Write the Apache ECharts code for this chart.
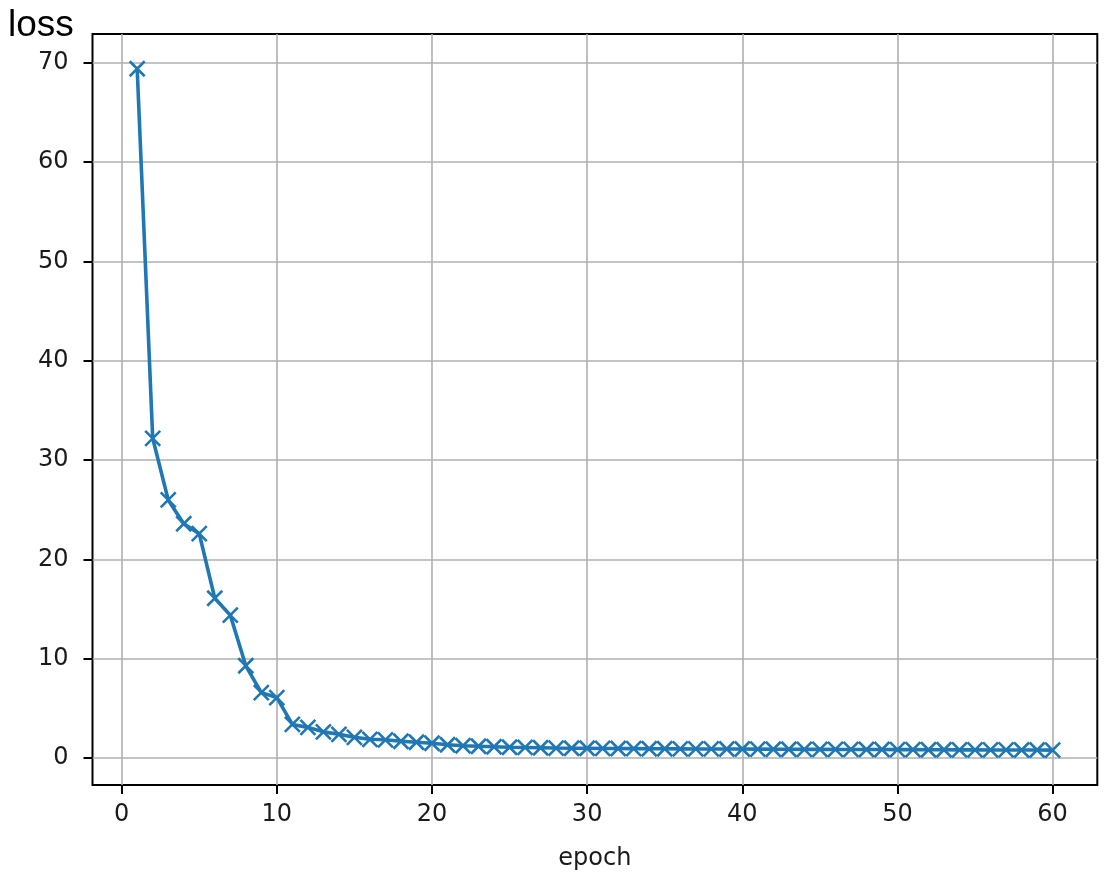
<!DOCTYPE html>
<html>
<head>
<meta charset="utf-8">
<script src="https://cdn.jsdelivr.net/npm/echarts@6/dist/echarts.min.js"></script>
<style>
html,body{margin:0;padding:0;background:#fff;}
#chart{width:1104px;height:878px;}
</style>
</head>
<body>
<div id="chart"></div>
<script>
const epochs = [];
for (let i = 1; i <= 60; i++) epochs.push(i);
const loss = [
  69.4, 32.2, 26.0, 23.6, 22.6, 16.1, 14.4, 9.3, 6.6, 6.1,
  3.4, 3.1, 2.65, 2.4, 2.1, 1.9, 1.85, 1.7, 1.6, 1.5,
  1.35, 1.25, 1.2, 1.15, 1.1, 1.08, 1.05, 1.02, 1.0, 1.0,
  0.98, 0.97, 0.96, 0.95, 0.95, 0.94, 0.93, 0.93, 0.92, 0.92,
  0.91, 0.9, 0.9, 0.89, 0.89, 0.88, 0.88, 0.87, 0.87, 0.86,
  0.86, 0.85, 0.85, 0.84, 0.84, 0.83, 0.83, 0.82, 0.82, 0.81
];
const xTicks = [0, 10, 20, 30, 40, 50, 60];
const yTicks = [0, 10, 20, 30, 40, 50, 60, 70];

const FONT = '"DejaVu Sans", sans-serif';
const TITLE_FONT = '"Liberation Sans", Arial, sans-serif';
const chart = echarts.init(document.getElementById('chart'), null, {renderer: 'canvas'});
const data = epochs.map((e, i) => [e, loss[i]]);

chart.setOption({
  animation: false,
  backgroundColor: '#fff',
  title: {
    text: 'loss',
    left: 3,
    top: 2,
    textStyle: {fontFamily: TITLE_FONT, fontSize: 37, fontWeight: 'normal', color: '#000'}
  },
  grid: {
    left: 92.5, right: 6.7, top: 34, bottom: 93,
    show: true, borderColor: '#000', borderWidth: 2, backgroundColor: 'transparent'
  },
  xAxis: {
    type: 'value',
    min: -1.88, max: 62.88,
    minInterval: 10, maxInterval: 10,
    name: 'epoch',
    nameLocation: 'middle',
    nameGap: 62,
    nameTextStyle: {fontFamily: FONT, fontSize: 24, color: '#1a1a1a'},
    axisLine: {show: false, onZero: false},
    axisTick: {show: true, inside: false, length: 9, lineStyle: {color: '#000', width: 2}, customValues: xTicks},
    axisLabel: {fontFamily: FONT, fontSize: 24, color: '#1a1a1a', margin: 18, customValues: xTicks},
    splitLine: {show: true, lineStyle: {color: '#b0b0b0', width: 1.6}}
  },
  yAxis: {
    type: 'value',
    min: -2.7, max: 72.9,
    minInterval: 10, maxInterval: 10,
    axisLine: {show: false, onZero: false},
    axisTick: {show: true, inside: false, length: 9, lineStyle: {color: '#000', width: 2}, customValues: yTicks},
    axisLabel: {fontFamily: FONT, fontSize: 24, color: '#1a1a1a', margin: 24, customValues: yTicks},
    splitLine: {show: true, lineStyle: {color: '#b0b0b0', width: 1.6}}
  },
  series: [{
    type: 'line',
    data: data,
    symbol: 'path://M0,0L10,10M10,0L0,10',
    symbolSize: 15,
    showAllSymbol: true,
    lineStyle: {color: '#1f77b4', width: 3.6},
    itemStyle: {color: '#1f77b4', borderColor: '#1f77b4', borderWidth: 2.6},
    emphasis: {disabled: true},
    z: 3
  }]
});
</script>
</body>
</html>
